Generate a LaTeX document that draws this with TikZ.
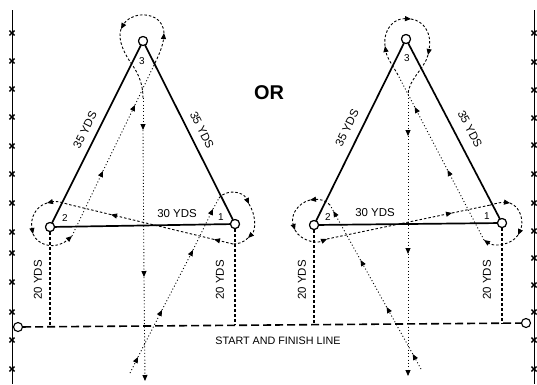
\documentclass[tikz,border=0pt]{standalone}
\usepackage{fontspec}
\setmainfont{Liberation Sans}
\usetikzlibrary{arrows.meta}
\begin{document}
\begin{tikzpicture}[x=1bp,y=-1bp,
  side/.style={line width=1.7bp, line cap=round},
  ydsline/.style={line width=1.4bp, dash pattern=on 3bp off 2bp},
  startline/.style={line width=1.6bp, dash pattern=on 8bp off 4bp},
  sideline/.style={line width=0.9bp},
  starx/.style={line width=1.4bp},
  rdot/.style={line width=0.9bp, dash pattern=on 1bp off 2.3bp, -{Triangle[length=6bp,width=5bp]}},
  rdash/.style={line width=0.9bp, dash pattern=on 2.5bp off 2bp, -{Triangle[length=6bp,width=5bp]}},
  pt/.style={circle, draw, fill=white, line width=1.1bp, minimum size=9bp, inner sep=0pt},
  lbl/.style={inner sep=0pt, font=\fontsize{11.5}{12}\selectfont},
  stlbl/.style={inner sep=0pt, font=\fontsize{10.8}{12}\selectfont},
  num/.style={inner sep=0pt, font=\fontsize{10}{11}\selectfont},
  ortext/.style={inner sep=0pt, font=\fontsize{20}{22}\selectfont\bfseries}
]
\useasboundingbox (0,0) rectangle (537,384);
\fill[white] (0,0) rectangle (537,384);

% side lines with marks
\coordinate (SLt) at (12,10);
\coordinate (SLb) at (12,384);
\coordinate (SRt) at (534,10);
\coordinate (SRb) at (534,384);
\draw[sideline] (SLt) -- (SLb);
\draw[sideline] (SRt) -- (SRb);
\foreach \yy in {33,61,89,117,146,174,203,232,253,282,312,340,369}
  \draw[starx] (12,\yy) +(-2.6,-2.4) -- +(2.6,2.4) +(-2.6,2.4) -- +(2.6,-2.4);
\foreach \yy in {33,62,90,118,145,174,203,231,258,285,312,340,369}
  \draw[starx] (534,\yy) +(-2.6,-2.4) -- +(2.6,2.4) +(-2.6,2.4) -- +(2.6,-2.4);

% nodes (cones)
\node[pt] (L3) at (143,41) {};
\node[pt] (L2) at (50,227) {};
\node[pt] (L1) at (235,224) {};
\node[pt] (R3) at (406,39) {};
\node[pt] (R2) at (314,225) {};
\node[pt] (R1) at (502,223) {};
\node[pt] (SL) at (18,327) {};
\node[pt] (SR) at (526,323) {};

\coordinate (L2s) at (50,326.5);
\coordinate (L1s) at (235,325.2);
\coordinate (R2s) at (314,324.6);
\coordinate (R1s) at (502,323.2);

% start and finish line
\draw[startline] (SL) -- (SR);
% 20 yds lines
\draw[ydsline] (L2) -- (L2s);
\draw[ydsline] (L1) -- (L1s);
\draw[ydsline] (R2) -- (R2s);
\draw[ydsline] (R1) -- (R1s);

% triangles
\draw[side] (L2) -- (L3);
\draw[side] (L3) -- (L1);
\draw[side] (L1) -- (L2);
\draw[side] (R2) -- (R3);
\draw[side] (R3) -- (R1);
\draw[side] (R1) -- (R2);

% ---- left route
\draw[rdot] (130,373) -- (138,357);
\draw[rdot] (138,357) -- (162,310);
\draw[rdot] (162,310) -- (193,250);
\draw[rdot] (193,250) -- (213,209);
\draw[rdot,-] (213,209) -- (219,198);
\draw[rdash] (219,198) .. controls (226,189) and (243,191) .. (249,204);
\draw[rdash] (249,204) .. controls (256,215) and (256,230) .. (248,238);
\draw[rdash,-] (248,238) .. controls (243,243) and (237,244) .. (233,244);
\draw[rdash] (233,244) -- (214,239.4);
\draw[rdash] (214,239.4) -- (111,214.6);
\draw[rdash,-] (111,214.6) -- (67,204);
\draw[rdash] (67,204) .. controls (62,202) and (55,201) .. (47,203);
\draw[rdash] (47,203) .. controls (36,206) and (30,218) .. (33,234);
\draw[rdash] (33,234) .. controls (38,246) and (56,250) .. (72,236);
\draw[rdot] (72,236) -- (103,171);
\draw[rdot] (103,171) -- (135,105);
\draw[rdot,-] (135,105) -- (155,63);
\draw[rdash] (155,63) .. controls (159,55) and (163,45) .. (164,33);
\draw[rdash] (164,33) .. controls (163,18) and (150,14) .. (140,15) .. controls (132,16) and (126,20) .. (121,29);
\draw[rdash,-] (121,29) .. controls (117,40) and (125,55) .. (133,66) .. controls (139,75) and (143,85) .. (143,98);
\draw[rdot] (143,98) -- (143,130);
\draw[rdot] (143,130) -- (144,277);
\draw[rdot] (144,277) -- (145,381);

% ---- right route
\draw[rdot] (421,369) -- (412.7,354);
\draw[rdot] (412.7,354) -- (386.6,307);
\draw[rdot] (386.6,307) -- (360.5,260);
\draw[rdot] (360.5,260) -- (333.3,211);
\draw[rdot,-] (333.3,211) -- (330,205);
\draw[rdash] (330,205) .. controls (326,200) and (318,199) .. (310,200);
\draw[rdash] (310,200) .. controls (298,203) and (290,215) .. (295,230);
\draw[rdash] (295,230) .. controls (300,240) and (315,244) .. (327,239);
\draw[rdash] (327,239) -- (452,213);
\draw[rdash,-] (452,213) -- (490,205.1);
\draw[rdash] (490,205.1) .. controls (497,203) and (503,202) .. (510,203);
\draw[rdash] (510,203) .. controls (521,207) and (524,222) .. (518,235);
\draw[rdash] (518,235) .. controls (512,245) and (494,247) .. (484,240);
\draw[rdot] (484,240) -- (447.5,170);
\draw[rdot] (447.5,170) -- (414.7,107);
\draw[rdot,-] (414.7,107) -- (398,75);
\draw[rdash] (398,75) .. controls (393,66) and (387,58) .. (385,46);
\draw[rdash] (385,46) .. controls (383,28) and (395,18) .. (411,19);
\draw[rdash] (411,19) .. controls (425,21) and (432,35) .. (428,55);
\draw[rdash,-] (428,55) .. controls (425,68) and (408,80) .. (408,95);
\draw[rdot] (408,95) -- (408,136);
\draw[rdot] (408,136) -- (408,254);
\draw[rdot] (408,254) -- (408,376);

% redraw cones on top
\node[pt] at (L3) {};
\node[pt] at (L2) {};
\node[pt] at (L1) {};
\node[pt] at (R3) {};
\node[pt] at (R2) {};
\node[pt] at (R1) {};

% labels
\node[lbl, rotate=63.4] (t35a) at (85,130) {35 YDS};
\node[lbl, rotate=-63.3] (t35b) at (202,130) {35 YDS};
\node[lbl, rotate=63.7] (t35c) at (347,128) {35 YDS};
\node[lbl, rotate=-62.4] (t35d) at (470,129) {35 YDS};
\node[lbl] (t30a) at (177,214) {30 YDS};
\node[lbl] (t30b) at (375,213) {30 YDS};
\node[lbl, rotate=90] (t20a) at (38,280) {20 YDS};
\node[lbl, rotate=90] (t20b) at (220,280) {20 YDS};
\node[lbl, rotate=90] (t20c) at (302,280) {20 YDS};
\node[lbl, rotate=90] (t20d) at (487,280) {20 YDS};
\node[num] (n3a) at (142,61) {3};
\node[num] (n2a) at (65,218) {2};
\node[num] (n1a) at (221,217) {1};
\node[num] (n3b) at (407,58) {3};
\node[num] (n2b) at (328,217) {2};
\node[num] (n1b) at (487,216) {1};
\node[ortext] (ortx) at (269,92.5) {OR};
\node[stlbl] (start) at (278,341) {START AND FINISH LINE};
\end{tikzpicture}
\end{document}
